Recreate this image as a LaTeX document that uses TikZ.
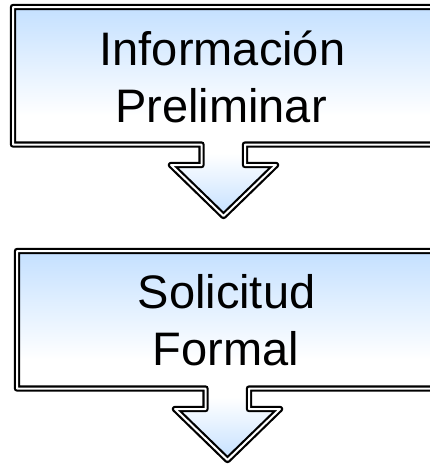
\documentclass[tikz,border=0pt]{standalone}
\usepackage{fontspec}
\setmainfont{Liberation Sans}
\definecolor{calblue}{RGB}{196,224,255}
\pgfdeclareverticalshading{calshade}{100bp}{color(0bp)=(calblue); color(25bp)=(calblue); color(40bp)=(white); color(49bp)=(white); color(75bp)=(calblue); color(100bp)=(calblue)}
\tikzset{
  callout/.style={shading=calshade, draw=black, line width=2.2pt, double=white, double distance=2pt, line join=round},
  lbl/.style={inner sep=0pt, anchor=base, font=\fontsize{47}{56}\selectfont}
}
\begin{document}
\begin{tikzpicture}[x=1pt,y=-1pt]
\path[use as bounding box] (0,0) rectangle (430,467);
\clip (0,0) rectangle (430,467);
% first callout
\path[callout] (445,7) -- (13,7) -- (13,144.5) -- (201.5,144.5) -- (201.5,165) -- (171,165) -- (223.5,216) -- (276,165) -- (245,165) -- (245,144.5) -- (445,144.5) -- cycle;
\node[lbl] (t1a) at (222.5,65) {Información};
\node[lbl] (t1b) at (221,122) {Preliminar};
% second callout
\begin{scope}[shift={(4,244)}]
\path[callout] (445,7) -- (13,7) -- (13,144.5) -- (201.5,144.5) -- (201.5,165) -- (171,165) -- (223.5,216) -- (276,165) -- (245,165) -- (245,144.5) -- (445,144.5) -- cycle;
\end{scope}
\node[lbl] (t2a) at (226.5,308) {Solicitud};
\node[lbl] (t2b) at (226,365) {Formal};
\end{tikzpicture}
\end{document}
